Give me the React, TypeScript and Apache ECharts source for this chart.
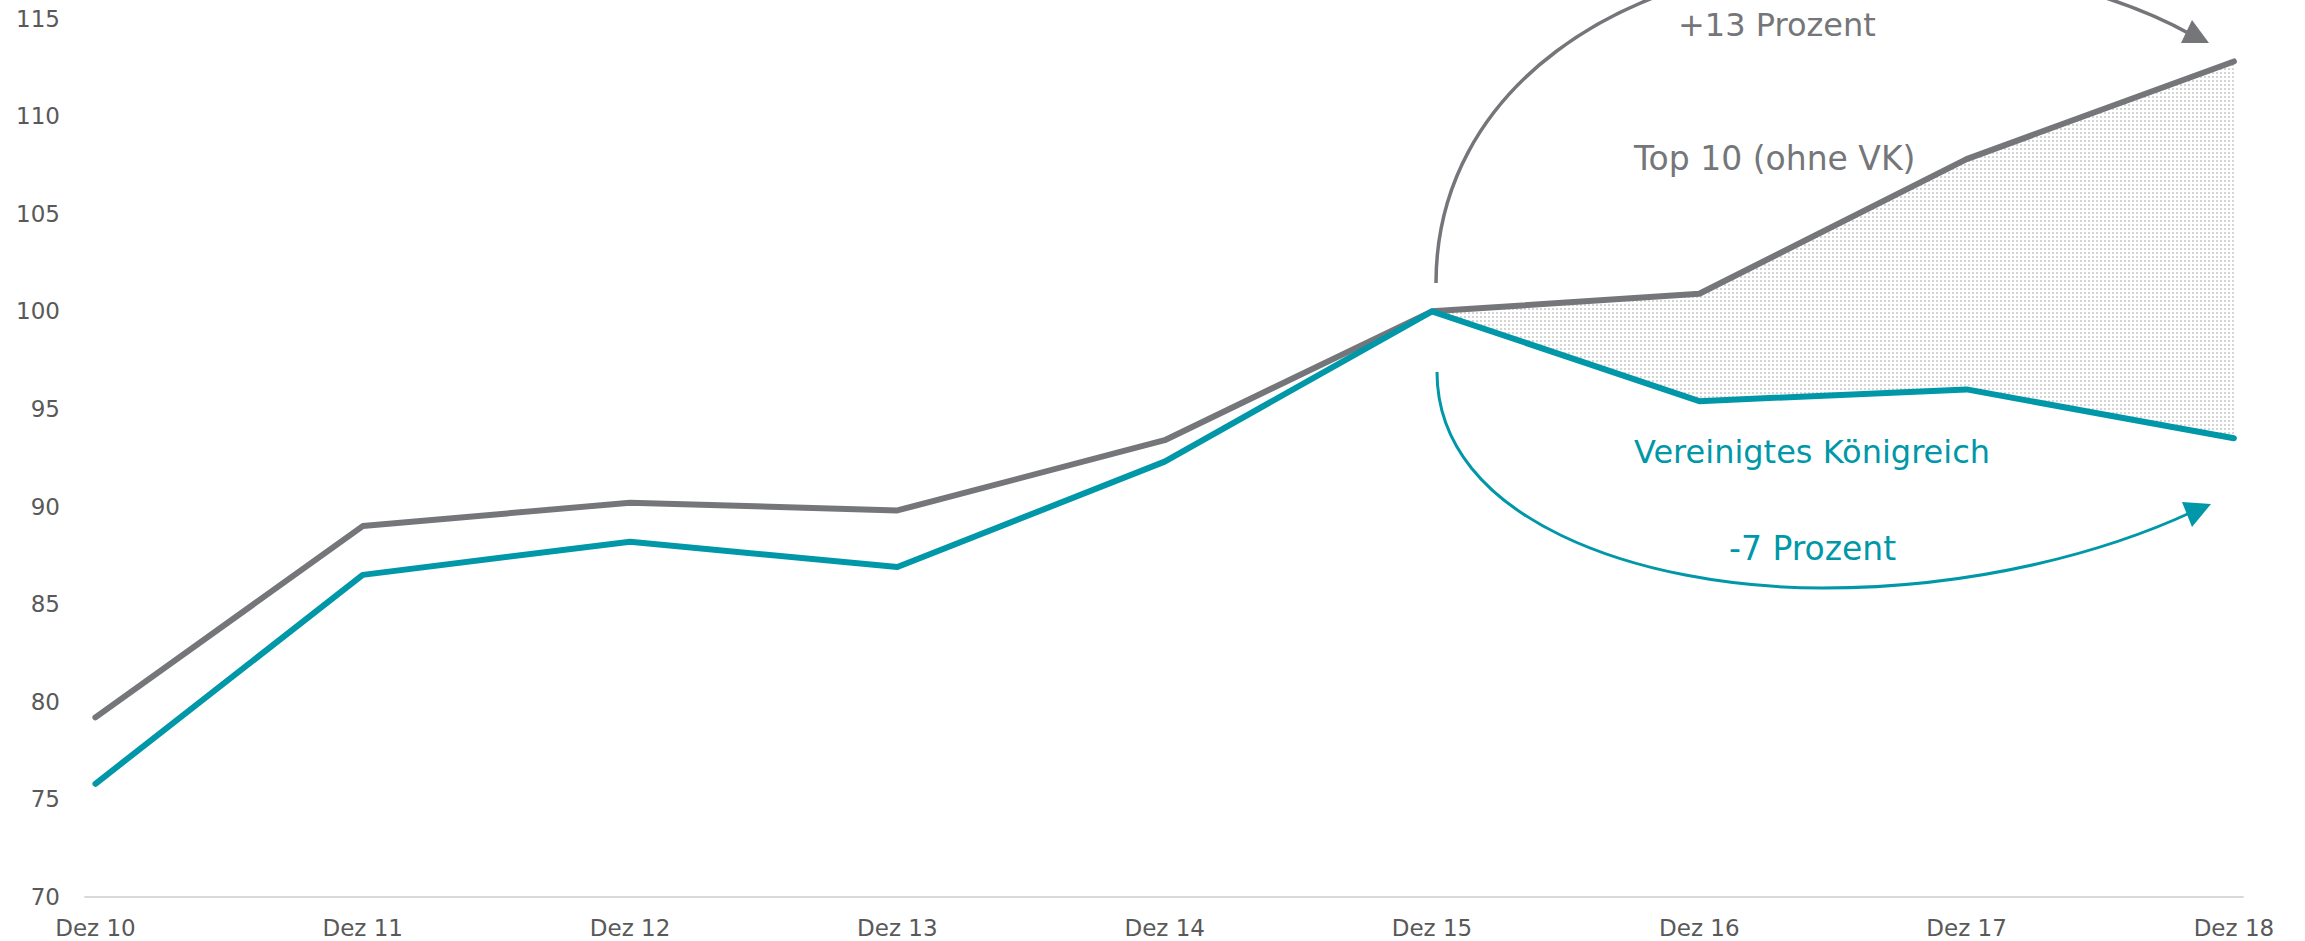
import React, { useEffect, useRef } from "react";
import * as echarts from "echarts";

// Index values (Dez 15 = 100)
const periods = ["Dez 10", "Dez 11", "Dez 12", "Dez 13", "Dez 14", "Dez 15", "Dez 16", "Dez 17", "Dez 18"];
const top10 = [79.2, 89.0, 90.2, 89.8, 93.4, 100, 100.9, 107.8, 112.8];
const uk = [75.8, 86.5, 88.2, 86.9, 92.3, 100, 95.4, 96.0, 93.5];
const bandStart = 5; // gap is shaded from Dez 15 onwards

const yTicks = { min: 70, max: 115, interval: 5 };

const GREY = "#757679";
const TEAL = "#0098a8";
const FONT = "DejaVu Sans";

function dotPattern(): HTMLCanvasElement {
  const c = document.createElement("canvas");
  c.width = 4;
  c.height = 4;
  const ctx = c.getContext("2d")!;
  ctx.fillStyle = "#ffffff";
  ctx.fillRect(0, 0, 4, 4);
  ctx.fillStyle = "#d4d4d4";
  ctx.fillRect(0, 0, 2, 2);
  return c;
}

export default function App() {
  const ref = useRef<HTMLDivElement>(null);

  useEffect(() => {
    if (!ref.current) return;
    const chart = echarts.init(ref.current, undefined, { renderer: "svg" });
    const pattern = dotPattern();
    const toPairs = (arr: number[]) => arr.map((v, i) => [i, v]);

    chart.setOption({
      animation: false,
      grid: { left: 85, right: 62, top: 18.5, bottom: 44 },
      xAxis: {
        type: "value",
        min: -0.039,
        max: 8.034,
        splitLine: { show: false },
        axisTick: { show: false },
        axisLine: { show: true, lineStyle: { color: "#d9d9d9", width: 2 } },
        axisLabel: {
          customValues: periods.map((_, i) => i),
          formatter: (v: number) => periods[Math.round(v)] ?? "",
          color: "#595959",
          fontFamily: FONT,
          fontSize: 23,
          margin: 19,
        },
      },
      yAxis: {
        type: "value",
        min: yTicks.min,
        max: yTicks.max,
        interval: yTicks.interval,
        splitLine: { show: false },
        axisLine: { show: false },
        axisTick: { show: false },
        axisLabel: { color: "#595959", fontFamily: FONT, fontSize: 23, margin: 25 },
      },
      series: [
        {
          // dotted band between the two lines from Dez 15 on
          type: "custom",
          silent: true,
          z: 1,
          data: [[bandStart, top10[bandStart]]],
          renderItem: (_params: any, api: any) => {
            const upper: number[][] = [];
            const lower: number[][] = [];
            for (let i = bandStart; i < periods.length; i++) {
              upper.push(api.coord([i, top10[i]]));
              lower.unshift(api.coord([i, uk[i]]));
            }
            return {
              type: "polygon",
              shape: { points: upper.concat(lower) },
              style: { fill: { image: pattern, repeat: "repeat" }, stroke: "none" },
            };
          },
        },
        {
          name: "Top 10 (ohne VK)",
          type: "line",
          data: toPairs(top10),
          symbol: "none",
          lineStyle: { color: GREY, width: 6, cap: "round", join: "round" },
          z: 3,
        },
        {
          name: "Vereinigtes Königreich",
          type: "line",
          data: toPairs(uk),
          symbol: "none",
          lineStyle: { color: TEAL, width: 6, cap: "round", join: "round" },
          z: 4,
        },
      ],
      graphic: [
        // upper arc towards Dez 18
        {
          type: "bezierCurve",
          shape: { x1: 1436, y1: 283, cpx1: 1436, cpy1: 90, cpx2: 1620, cpy2: -35, x2: 1850, y2: -40 },
          style: { stroke: GREY, lineWidth: 3.5, fill: "none" },
        },
        {
          type: "bezierCurve",
          shape: { x1: 1850, y1: -40, cpx1: 2000, cpy1: -40, cpx2: 2120, cpy2: -5, x2: 2190, y2: 34 },
          style: { stroke: GREY, lineWidth: 3.5, fill: "none" },
        },
        {
          type: "polygon",
          shape: { points: [[2181, 43], [2209, 43], [2192, 20]] },
          style: { fill: GREY },
        },
        // lower arc towards Dez 18
        {
          type: "bezierCurve",
          shape: { x1: 1437, y1: 372, cpx1: 1437, cpy1: 520, cpx2: 1640, cpy2: 588, x2: 1823, y2: 588 },
          style: { stroke: TEAL, lineWidth: 3, fill: "none" },
        },
        {
          type: "bezierCurve",
          shape: { x1: 1823, y1: 588, cpx1: 1980, cpy1: 588, cpx2: 2110, cpy2: 550, x2: 2192, y2: 512 },
          style: { stroke: TEAL, lineWidth: 3, fill: "none" },
        },
        {
          type: "polygon",
          shape: { points: [[2182, 502], [2211, 504], [2192, 527]] },
          style: { fill: TEAL },
        },
        {
          type: "text",
          x: 1678,
          y: 25,
          style: { text: "+13 Prozent", fill: GREY, font: `32px "${FONT}"`, textVerticalAlign: "middle" },
        },
        {
          type: "text",
          x: 1634,
          y: 158,
          style: { text: "Top 10 (ohne VK)", fill: GREY, font: `33px "${FONT}"`, textVerticalAlign: "middle" },
        },
        {
          type: "text",
          x: 1634,
          y: 452,
          style: { text: "Vereinigtes Königreich", fill: TEAL, font: `32px "${FONT}"`, textVerticalAlign: "middle" },
        },
        {
          type: "text",
          x: 1729,
          y: 548,
          style: { text: "-7 Prozent", fill: TEAL, font: `33px "${FONT}"`, textVerticalAlign: "middle" },
        },
      ],
    });

    return () => chart.dispose();
  }, []);

  return (
    <div
      ref={ref}
      style={{ position: "fixed", left: 0, top: 0, width: "2305px", height: "941px", background: "#ffffff" }}
    />
  );
}
